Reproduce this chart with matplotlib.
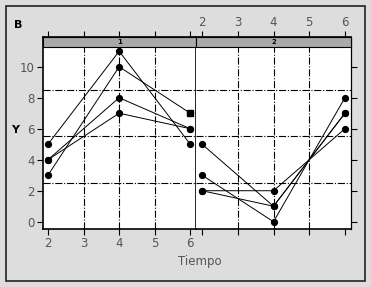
import matplotlib.pyplot as plt
from matplotlib.patches import Rectangle

tiempo = [2, 4, 6]
# grupo 1
g1_a = [5, 11, 5]
g1_b = [3, 10, 7]
g1_c = [4, 8, 6]
g1_d = [4, 7, 6]
# grupo 2
g2_a = [5, 1, 7]
g2_b = [3, 0, 8]
g2_c = [2, 2, 6]
g2_d = [2, 1, 7]

x_ticks = [2, 3, 4, 5, 6]
y_ticks = [0, 2, 4, 6, 8, 10]
strip_labels = ['1', '2']

W, H = 371, 287
fig = plt.figure(figsize=(W / 100, H / 100), dpi=100)
fig.patch.set_facecolor('#dddddd')
fig.add_artist(Rectangle((6 / W, 6 / H), 359 / W, 275 / H, transform=fig.transFigure,
                         fill=False, edgecolor='#222222', linewidth=1.2))

def px_axes(l, r, t, b):
    return fig.add_axes([l / W, (H - b) / H, (r - l) / W, (b - t) / H])

ax1 = px_axes(43, 196, 37, 229)
ax2 = px_axes(196, 351, 37, 229)

ylim = (-0.47, 11.92)
strip_bottom = 11.29

for ax, xl in [(ax1, (1.86, 6.16)), (ax2, (1.83, 6.17))]:
    ax.set_xlim(*xl)
    ax.set_ylim(*ylim)
    ax.set_facecolor('white')
    for s in ax.spines.values():
        s.set_linewidth(1.2)
        s.set_color('black')
    for gy in [2.5, 5.5, 8.5]:
        ax.axhline(gy, color='black', lw=0.8, ls='-.', zorder=1)
    for gx in [3, 4, 5]:
        ax.axvline(gx, color='black', lw=0.8, ls='-.', zorder=1)
    ax.set_xticks(x_ticks)
    ax.set_yticks(y_ticks)
    ax.tick_params(direction='out', length=4, width=0.8, color='black',
                   labelsize=8.5, labelcolor='#555555', pad=2)
    ax.add_patch(Rectangle((xl[0], strip_bottom), xl[1] - xl[0], ylim[1] - strip_bottom,
                           facecolor='#a9a9a9', edgecolor='black', lw=0.8, zorder=5,
                           clip_on=False))

ax2.spines['left'].set_visible(False)
ax2.spines['right'].set_linewidth(0.9)

ax1.text(4, (strip_bottom + ylim[1]) / 2, strip_labels[0], ha='center', va='center',
         fontsize=5, fontweight='bold', zorder=6)
ax2.text(4, (strip_bottom + ylim[1]) / 2, strip_labels[1], ha='center', va='center',
         fontsize=5, fontweight='bold', zorder=6)

ax1.tick_params(top=True, bottom=True, labeltop=False, labelbottom=True,
                left=True, labelleft=True, right=False)
ax2.tick_params(top=True, bottom=True, labeltop=True, labelbottom=False,
                left=False, labelleft=False, right=True, labelright=False)

for ax, series in [(ax1, [g1_a, g1_b, g1_c, g1_d]), (ax2, [g2_a, g2_b, g2_c, g2_d])]:
    for ys in series:
        ax.plot(tiempo, ys, color='black', lw=0.7, zorder=3)
        ax.plot(tiempo, ys, 'o', color='black', ms=4.2, zorder=4)

# el punto final de g1_b aparece como cuadrado
ax1.plot(tiempo[-1], g1_b[-1], 's', color='black', ms=4.2, zorder=4.5)

fig.text(18 / W, 1 - 25 / H, 'B', fontsize=8, fontweight='bold', ha='center', va='center')
fig.text(15 / W, 1 - 130 / H, 'Y', fontsize=8, fontweight='bold', ha='center', va='center')
fig.text(200 / W, 1 - 262 / H, 'Tiempo', fontsize=8.5, color='#555555',
         ha='center', va='center')

fig.savefig('out.png', dpi=100, facecolor=fig.get_facecolor())
